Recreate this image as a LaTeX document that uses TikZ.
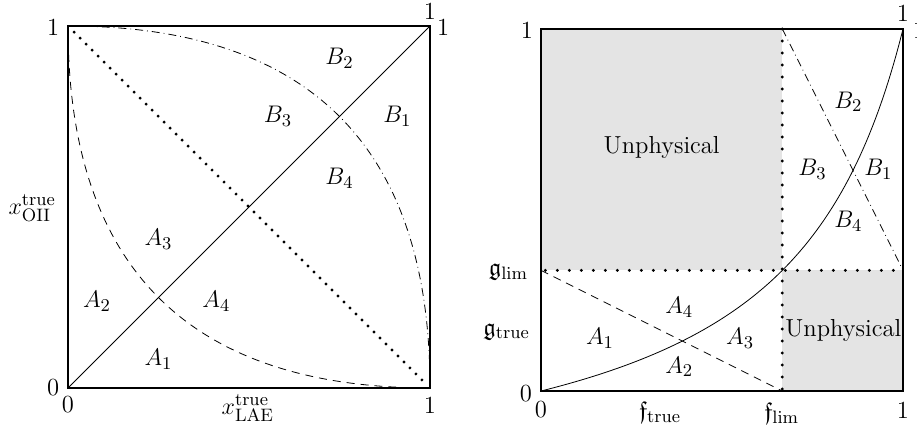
\documentclass[tikz,border=0pt]{standalone}
\usepackage{amsmath,amssymb}
\usepackage{xcolor}
\usepackage{tikz}
\usetikzlibrary{positioning}
\definecolor{unphys}{gray}{0.895}

\begin{document}
\begin{tikzpicture}[every node/.style={font=\fontsize{12.3}{15}\selectfont, inner sep=0pt}, border/.style={line width=0.6pt}, crv/.style={line width=0.4pt}, dsh/.style={crv, dash pattern=on 4pt off 3pt}, dshdot/.style={crv, dash pattern=on 4pt off 2pt on 0.4pt off 2pt}, bigdots/.style={line width=1.6pt, line cap=round, dash pattern=on 0pt off #1}]
\useasboundingbox (0,0) rectangle (458.5pt,-214pt);

% left panel: true fractions
\begin{scope}[shift={(34pt,-194pt)}, x=181pt, y=181pt]
\coordinate (lo) at (0,0);
\coordinate (lx) at (1,0);
\coordinate (ly) at (0,1);
\coordinate (lt) at (1,1);
\coordinate (ld1) at (0.017,0.983);
\coordinate (ld2) at (0.983,0.017);
\draw[dsh] (ly) .. controls (0,1/3) and (1/3,0) .. (lx);
\draw[dshdot] (ly) .. controls (2/3,1) and (1,2/3) .. (lx);
\draw[crv] (lo) -- (lt);
\draw[bigdots=4.24pt] (ld1) -- (ld2);
\draw[border] (lo) rectangle (lt);
\node (lB2) at (0.75,0.91) {$B_2$};
\node (lB3) at (0.58,0.75) {$B_3$};
\node (lB1) at (0.91,0.75) {$B_1$};
\node (lB4) at (0.75,0.58) {$B_4$};
\node (lA3) at (0.25,0.41) {$A_3$};
\node (lA2) at (0.08,0.24) {$A_2$};
\node (lA4) at (0.41,0.24) {$A_4$};
\node (lA1) at (0.25,0.08) {$A_1$};
\node (lyone) at (-0.041,0.997) {1};
\node (lyzero) at (-0.041,0) {0};
\node (lxzero) at (0,-0.047) {0};
\node (lxone) at (1,-0.047) {1};
\node (ltop) at (1,1.04) {1};
\node (lright) at (1.036,0.995) {1};
\node (lylab) at (-0.099,0.497) {$x_{\mathrm{OII}}^{\mathrm{true}}$};
\node (lxlab) at (0.497,-0.055) {$x_{\mathrm{LAE}}^{\mathrm{true}}$};
\end{scope}

% right panel: limits
\begin{scope}[shift={(270.5pt,-195.5pt)}, x=181pt, y=181pt]
\coordinate (ro) at (0,0);
\coordinate (rt) at (1,1);
\coordinate (rgl) at (0,1/3);
\coordinate (rgs) at (0.012,1/3);
\coordinate (rgr) at (1,1/3);
\coordinate (rfb) at (2/3,0);
\coordinate (rft) at (2/3,1);
\fill[unphys] (rgl) rectangle (rft);
\fill[unphys] (rfb) rectangle (rgr);
\draw[dsh] (rgl) -- (rfb);
\draw[dshdot] (rft) -- (rgr);
\draw[crv] plot[domain=0:1, samples=120] (\x, {\x/(4-3*\x)});
\draw[bigdots=6pt] (rft) -- (rfb);
\draw[bigdots=6pt] (rgs) -- (rgr);
\draw[border] (ro) rectangle (rt);
\node (rU1) at (1/3,0.672) {Unphysical};
\node (rU2) at (0.835,0.168) {Unphysical};
\node (rB2) at (0.849,0.799) {$B_2$};
\node (rB3) at (0.75,0.613) {$B_3$};
\node (rB1) at (0.932,0.613) {$B_1$};
\node (rB4) at (0.849,0.468) {$B_4$};
\node (rA4) at (0.382,0.231) {$A_4$};
\node (rA1) at (0.163,0.145) {$A_1$};
\node (rA3) at (0.55,0.145) {$A_3$};
\node (rA2) at (0.382,0.067) {$A_2$};
\node (ryone) at (-0.039,0.997) {1};
\node (ryzero) at (-0.042,-0.006) {0};
\node (rxzero) at (0,-0.052) {0};
\node (rxone) at (1,-0.052) {1};
\node (rtop) at (1,1.043) {1};
\node (rright) at (1.044,0.997) {1};
\node (rftrue) at (0.329,-0.06) {$\mathfrak{f}_{\mathrm{true}}$};
\node (rflim) at (0.665,-0.062) {$\mathfrak{f}_{\mathrm{lim}}$};
\node (rglim) at (-0.09,0.33) {$\mathfrak{g}_{\mathrm{lim}}$};
\node (rgtrue) at (-0.095,0.164) {$\mathfrak{g}_{\mathrm{true}}$};
\end{scope}
\end{tikzpicture}
\end{document}
